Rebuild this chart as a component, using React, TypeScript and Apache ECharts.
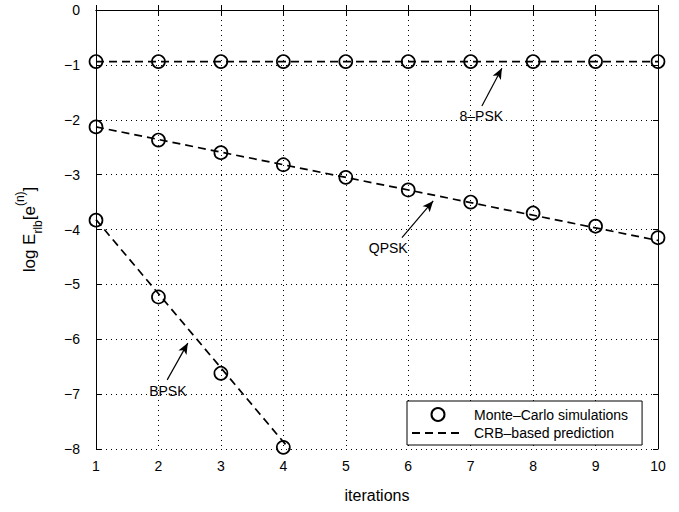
import React, { useEffect, useRef } from "react";
import * as echarts from "echarts";

const iterations = [1, 2, 3, 4, 5, 6, 7, 8, 9, 10];
const mc8psk = [-0.94, -0.94, -0.94, -0.94, -0.94, -0.94, -0.94, -0.94, -0.94, -0.94];
const mcQpsk = [-2.13, -2.37, -2.6, -2.82, -3.05, -3.28, -3.5, -3.7, -3.94, -4.15];
const mcBpsk = [-3.83, -5.23, -6.62, -7.97];
const crb8psk = [[1, -0.94], [10, -0.94]];
const crbQpsk = [[1, -2.13], [10, -4.2]];
const crbBpsk = [[1, -3.82], [5, -9.22]];
const annotations = [
  { text: "8–PSK", textAt: [7.17, -1.93], from: [7.18, -1.75], to: [7.5, -1.06] },
  { text: "QPSK", textAt: [5.68, -4.34], from: [5.9, -4.15], to: [6.4, -3.48] },
  { text: "BPSK", textAt: [2.15, -6.94], from: [2.14, -6.74], to: [2.47, -6.07] },
];
const legendNames = ["Monte–Carlo simulations", "CRB–based prediction"];

const FONT = "Liberation Sans, Arial, Helvetica, sans-serif";

export default function App() {
  const ref = useRef<HTMLDivElement>(null);
  useEffect(() => {
    if (!ref.current) return;
    const chart = echarts.init(ref.current, null, { renderer: "svg" });
    const mcData = [
      ...iterations.map((x, i) => [x, mc8psk[i]]),
      ...iterations.map((x, i) => [x, mcQpsk[i]]),
      ...mcBpsk.map((y, i) => [iterations[i], y]),
    ];
    const lineStyle = { color: "#000", width: 1.7, type: [8, 5] as any };
    const mkLine = (data: number[][]) => ({
      type: "line",
      name: legendNames[1],
      data,
      showSymbol: false,
      symbol: "none",
      clip: true,
      lineStyle,
      itemStyle: { color: "#000" },
      z: 3,
    });
    const gridLine = { show: true, lineStyle: { color: "#000", width: 1, type: [1, 4] as any } };
    const tickLabel = { color: "#000", fontSize: 14, fontFamily: FONT };
    const fmt = (v: number) => String(v).replace("-", "−");
    chart.setOption({
      animation: false,
      backgroundColor: "#fff",
      grid: { left: 96, right: 21, top: 10, bottom: 63, containLabel: false },
      legend: {
        orient: "vertical",
        left: 407,
        top: 401,
        width: 240,
        backgroundColor: "#fff",
        borderColor: "#000",
        borderWidth: 1,
        borderRadius: 0,
        padding: [6, 14, 5, 4],
        itemGap: 4,
        itemWidth: 52,
        itemHeight: 13,
        textStyle: { color: "#000", fontSize: 14, fontFamily: FONT, padding: [0, 0, 0, 5] },
        data: [
          { name: legendNames[0] },
          { name: legendNames[1], itemStyle: { color: "rgba(0,0,0,0)", borderColor: "rgba(0,0,0,0)", opacity: 0 } },
        ],
        selectedMode: false,
      },
      xAxis: [
        {
          type: "value",
          min: 1,
          max: 10,
          interval: 1,
          position: "bottom",
          name: "iterations",
          nameLocation: "middle",
          nameGap: 38,
          nameTextStyle: { color: "#000", fontSize: 16, fontFamily: FONT },
          axisLine: { show: true, lineStyle: { color: "#000", width: 1 } },
          axisTick: { show: true, inside: true, length: 5, lineStyle: { color: "#000" } },
          axisLabel: { ...tickLabel, margin: 10 },
          splitLine: gridLine,
        },
        {
          type: "value",
          min: 1,
          max: 10,
          interval: 1,
          position: "top",
          axisLine: { show: true, lineStyle: { color: "#000", width: 1 } },
          axisTick: { show: true, inside: true, length: 5, lineStyle: { color: "#000" } },
          axisLabel: { show: false },
          splitLine: { show: false },
        },
      ],
      yAxis: [
        {
          type: "value",
          min: -8,
          max: 0,
          interval: 1,
          position: "left",
          name: "{b|log E}{s|rlb}{b|[e}{p|(n)}{b|]}",
          nameLocation: "middle",
          nameGap: 52,
          nameRotate: 90,
          nameTextStyle: {
            color: "#000",
            fontFamily: FONT,
            rich: {
              b: { fontSize: 17, fontFamily: FONT, color: "#000", lineHeight: 30, verticalAlign: "middle" },
              s: { fontSize: 12, fontFamily: FONT, color: "#000", lineHeight: 12, verticalAlign: "bottom" },
              p: { fontSize: 12, fontFamily: FONT, color: "#000", lineHeight: 12, verticalAlign: "top" },
            },
          },
          axisLine: { show: true, lineStyle: { color: "#000", width: 1 } },
          axisTick: { show: true, inside: true, length: 5, lineStyle: { color: "#000" } },
          axisLabel: { ...tickLabel, margin: 16, formatter: fmt },
          splitLine: gridLine,
        },
        {
          type: "value",
          min: -8,
          max: 0,
          interval: 1,
          position: "right",
          axisLine: { show: true, lineStyle: { color: "#000", width: 1 } },
          axisTick: { show: true, inside: true, length: 5, lineStyle: { color: "#000" } },
          axisLabel: { show: false },
          splitLine: { show: false },
        },
      ],
      series: [
        {
          type: "scatter",
          name: legendNames[0],
          data: mcData,
          symbol: "circle",
          symbolSize: 13,
          itemStyle: { color: "rgba(255,255,255,0)", borderColor: "#000", borderWidth: 1.7, opacity: 1 },
          z: 4,
        },
        mkLine(crb8psk),
        mkLine(crbQpsk),
        {
          ...mkLine(crbBpsk),
          markLine: {
            silent: true,
            symbol: ["none", "arrow"],
            symbolSize: [7, 11],
            label: { show: false },
            lineStyle: { color: "#000", width: 1.2, type: "solid" },
            data: annotations.map((a) => [{ coord: a.from }, { coord: a.to }]),
          },
        },
      ],
    });
    const texts = annotations.map((a) => {
      const p = chart.convertToPixel({ gridIndex: 0 }, a.textAt) as number[];
      return {
        type: "text",
        x: p[0],
        y: p[1],
        style: {
          text: a.text,
          fill: "#000",
          font: `14px ${FONT}`,
          align: "center",
          verticalAlign: "middle",
        },
        z: 10,
      };
    });
    chart.setOption({ graphic: texts });
    return () => chart.dispose();
  }, []);
  return (
    <div
      ref={ref}
      style={{ position: "absolute", left: 0, top: 0, width: 679, height: 512 }}
    />
  );
}
